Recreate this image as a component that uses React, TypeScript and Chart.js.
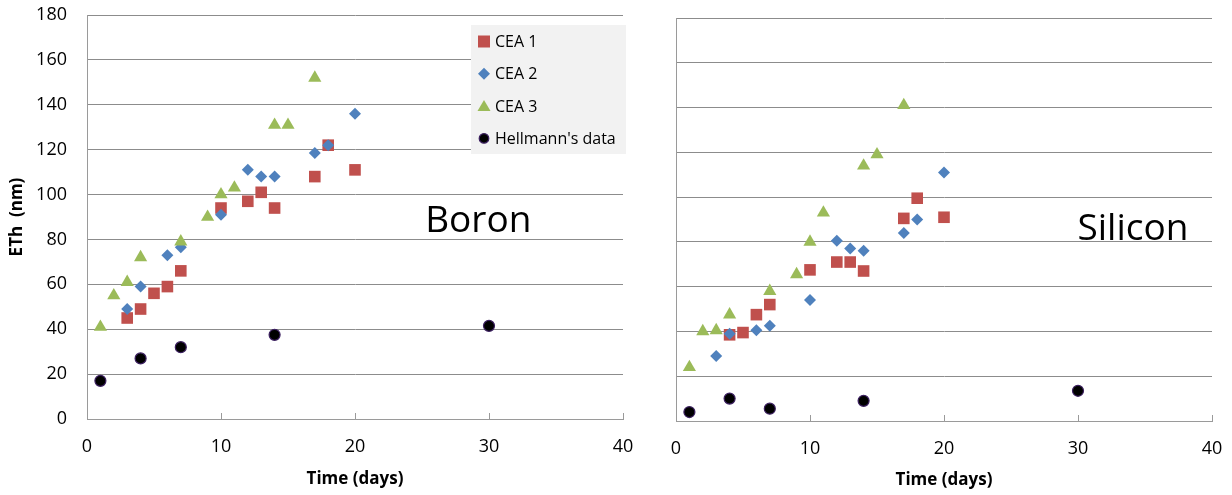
import React, { useEffect, useRef } from "react";
import { Chart, registerables } from "chart.js";

Chart.register(...registerables);

const FONT = "'Open Sans', sans-serif";

// ---- Data ----
const xTicks = [0, 10, 20, 30, 40];
const yTicks = [0, 20, 40, 60, 80, 100, 120, 140, 160, 180];
const seriesNames = ["CEA 1", "CEA 2", "CEA 3", "Hellmann's data"];

// Boron
const boronCea1Days = [3, 4, 5, 6, 7, 10, 12, 13, 14, 17, 18, 20];
const boronCea1 = [45, 49, 56, 59, 66, 94, 97, 101, 94, 108, 122, 111];
const boronCea2Days = [3, 4, 6, 7, 10, 12, 13, 14, 17, 18, 20];
const boronCea2 = [49, 59, 73, 76.5, 91, 111, 108, 108, 118.5, 122, 136];
const boronCea3Days = [1, 2, 3, 4, 7, 9, 10, 11, 14, 15, 17];
const boronCea3 = [41, 55, 61, 72, 79, 90, 100, 103, 131, 131, 152];
const boronHellmannDays = [1, 4, 7, 14, 30];
const boronHellmann = [17, 27, 32, 37.5, 41.5];

// Silicon
const siliconCea1Days = [4, 5, 6, 7, 10, 12, 13, 14, 17, 18, 20];
const siliconCea1 = [38.5, 39.5, 47.5, 52, 67.5, 71, 71, 67, 90.5, 99.5, 91];
const siliconCea2Days = [3, 4, 6, 7, 10, 12, 13, 14, 17, 18, 20];
const siliconCea2 = [29, 39, 40.5, 42.5, 54, 80.5, 77, 76, 84, 90, 111];
const siliconCea3Days = [1, 2, 3, 4, 7, 9, 10, 11, 14, 15, 17];
const siliconCea3 = [24, 40, 40.5, 47.5, 58, 65.5, 80, 93, 114, 119, 141];
const siliconHellmannDays = [1, 4, 7, 14, 30];
const siliconHellmann = [4, 10, 5.5, 9, 13.5];

const RED = "#C0504D";
const BLUE = "#4F81BD";
const GREEN = "#9BBB59";
const BLACK = "#000000";
const PURPLE = "#3c2060";

const pts = (xs: number[], ys: number[]) => xs.map((x, i) => ({ x, y: ys[i] }));

function makeDatasets(d: number[][]) {
  return [
    {
      label: seriesNames[0], data: pts(d[0], d[1]), pointStyle: "rect", pointRadius: 8.2,
      backgroundColor: RED, borderColor: RED, borderWidth: 0, order: 4,
    },
    {
      label: seriesNames[1], data: pts(d[2], d[3]), pointStyle: "rectRot", pointRadius: 6,
      backgroundColor: BLUE, borderColor: BLUE, borderWidth: 0, order: 3,
    },
    {
      label: seriesNames[2], data: pts(d[4], d[5]), pointStyle: "triangle", pointRadius: 7.6,
      backgroundColor: GREEN, borderColor: GREEN, borderWidth: 0, order: 2,
    },
    {
      label: seriesNames[3], data: pts(d[6], d[7]), pointStyle: "circle", pointRadius: 5.5,
      backgroundColor: BLACK, borderColor: PURPLE, borderWidth: 1.2, order: 1,
    },
  ];
}

function drawMarker(ctx: CanvasRenderingContext2D, style: string, x: number, y: number, fill: string, stroke: string) {
  ctx.save();
  ctx.fillStyle = fill;
  ctx.beginPath();
  if (style === "rect") {
    ctx.rect(x - 6, y - 6, 12, 12);
    ctx.fill();
  } else if (style === "rectRot") {
    ctx.moveTo(x - 6, y); ctx.lineTo(x, y - 6); ctx.lineTo(x + 6, y); ctx.lineTo(x, y + 6);
    ctx.closePath(); ctx.fill();
  } else if (style === "triangle") {
    ctx.moveTo(x, y - 6); ctx.lineTo(x + 6.5, y + 5); ctx.lineTo(x - 6.5, y + 5);
    ctx.closePath(); ctx.fill();
  } else {
    ctx.arc(x, y, 4.8, 0, Math.PI * 2);
    ctx.fill();
    ctx.strokeStyle = stroke; ctx.lineWidth = 1.2; ctx.stroke();
  }
  ctx.restore();
}

const overlayPlugin = {
  id: "overlay",
  afterDraw(chart: any, _args: any, opts: any) {
    const { ctx, chartArea, scales } = chart;
    const xs = scales.x;
    // inner tick marks on the x axis
    ctx.save();
    ctx.strokeStyle = "#9a9a9a";
    ctx.lineWidth = 1;
    xs.ticks.forEach((t: any) => {
      const px = Math.round(xs.getPixelForValue(t.value)) + 0.5;
      ctx.beginPath();
      ctx.moveTo(px, chartArea.bottom);
      ctx.lineTo(px, chartArea.bottom - 6);
      ctx.stroke();
    });
    ctx.restore();

    if (opts && opts.label) {
      ctx.save();
      ctx.font = `37px ${FONT}`;
      ctx.fillStyle = "#000";
      ctx.textAlign = "center";
      ctx.textBaseline = "alphabetic";
      ctx.fillText(opts.label, xs.getPixelForValue(opts.labelX), scales.y.getPixelForValue(opts.labelY));
      ctx.restore();
    }

    if (opts && opts.legend) {
      const w = 155, h = 129;
      const left = chartArea.right + 3 - w;
      const top = chartArea.top + 10;
      ctx.save();
      ctx.fillStyle = "#F2F2F2";
      ctx.fillRect(left, top, w, h);
      ctx.font = `16px ${FONT}`;
      ctx.fillStyle = "#000";
      ctx.textAlign = "left";
      ctx.textBaseline = "middle";
      chart.data.datasets.forEach((ds: any, i: number) => {
        const cy = top + 16.5 + i * 32.3;
        drawMarker(ctx, ds.pointStyle, left + 13, cy, ds.backgroundColor, ds.borderColor);
        ctx.fillStyle = "#000";
        ctx.fillText(ds.label, left + 24, cy + 1);
      });
      ctx.restore();
    }
  },
};

function makeConfig(datasets: any[], opts: { showY: boolean; yWidth: number; xHeight: number; padTop: number; padRight: number; titlePadBottom: number; overlay: any }) {
  return {
    type: "scatter" as const,
    data: { datasets },
    plugins: [overlayPlugin],
    options: {
      animation: false as const,
      responsive: false,
      maintainAspectRatio: false,
      layout: { padding: { top: opts.padTop, right: opts.padRight, left: 0, bottom: 0 } },
      scales: {
        x: {
          type: "linear" as const,
          min: 0,
          max: 40,
          afterBuildTicks: (s: any) => { s.ticks = xTicks.map((v) => ({ value: v })); },
          ticks: { color: "#000", font: { family: FONT, size: 18 }, padding: 17.5, maxRotation: 0 },
          grid: { drawOnChartArea: false, drawTicks: false },
          border: { color: "#9a9a9a", width: 1 },
          title: {
            display: true,
            text: "Time (days)",
            color: "#000",
            font: { family: FONT, size: 17, weight: "bold" as const },
            padding: { top: 0, bottom: opts.titlePadBottom },
          },
          afterFit: (s: any) => {
            s.height = opts.xHeight;
            s.paddingLeft = 0;
            s.paddingRight = 0;
          },
        },
        y: {
          type: "linear" as const,
          min: 0,
          max: 180,
          afterBuildTicks: (s: any) => { s.ticks = yTicks.map((v) => ({ value: v })); },
          ticks: { display: opts.showY, color: "#000", font: { family: FONT, size: 18 }, padding: 20 },
          grid: { color: "#8c8c8c", lineWidth: 1, drawTicks: false },
          border: { color: "#9a9a9a", width: 1 },
          title: {
            display: opts.showY,
            text: "ETh  (nm)",
            color: "#000",
            font: { family: FONT, size: 17, weight: "bold" as const },
            padding: { top: 7, bottom: 0 },
          },
          afterFit: (s: any) => {
            s.width = opts.yWidth;
            s.paddingTop = 0;
            s.paddingBottom = 0;
          },
        },
      },
      plugins: {
        legend: { display: false },
        tooltip: { enabled: false },
        overlay: opts.overlay,
      },
    },
  };
}

export default function App() {
  const leftRef = useRef<HTMLCanvasElement>(null);
  const rightRef = useRef<HTMLCanvasElement>(null);

  useEffect(() => {
    const left = new Chart(
      leftRef.current as HTMLCanvasElement,
      makeConfig(
        makeDatasets([boronCea1Days, boronCea1, boronCea2Days, boronCea2, boronCea3Days, boronCea3, boronHellmannDays, boronHellmann]),
        { showY: true, yWidth: 87, xHeight: 76, padTop: 15, padRight: 17, titlePadBottom: 6, overlay: { label: "Boron", labelX: 29.2, labelY: 83.5, legend: true } }
      ) as any
    );
    const right = new Chart(
      rightRef.current as HTMLCanvasElement,
      makeConfig(
        makeDatasets([siliconCea1Days, siliconCea1, siliconCea2Days, siliconCea2, siliconCea3Days, siliconCea3, siliconHellmannDays, siliconHellmann]),
        { showY: false, yWidth: 36, xHeight: 74, padTop: 18, padRight: 20, titlePadBottom: 4.5, overlay: { label: "Silicon", labelX: 34.1, labelY: 80.8, legend: false } }
      ) as any
    );
    return () => {
      left.destroy();
      right.destroy();
    };
  }, []);

  return (
    <div style={{ position: "absolute", left: 0, top: 0, width: 1232, height: 495, background: "#fff", overflow: "hidden" }}>
      <canvas ref={leftRef} width={640} height={495} style={{ position: "absolute", left: 0, top: 0, width: 640, height: 495 }} />
      <canvas ref={rightRef} width={592} height={495} style={{ position: "absolute", left: 640, top: 0, width: 592, height: 495 }} />
    </div>
  );
}
